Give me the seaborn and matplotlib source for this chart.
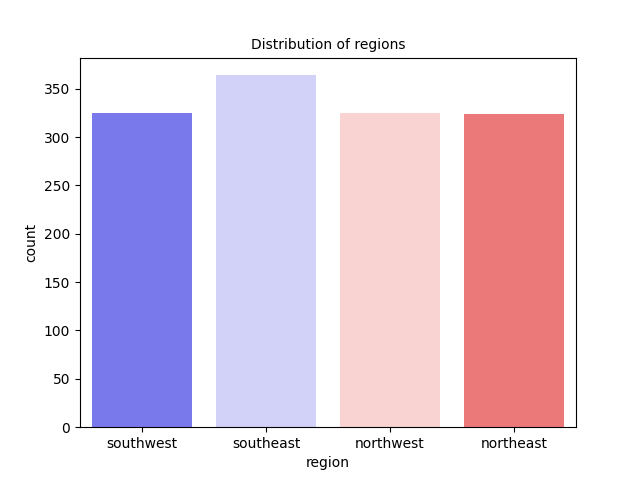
import matplotlib
matplotlib.use("Agg")
import matplotlib.pyplot as plt
import seaborn as sns
import pandas as pd

regions = ["southwest", "southeast", "northwest", "northeast"]
counts = [325, 364, 325, 324]

df = pd.DataFrame({"region": regions, "count": counts})

fig, ax = plt.subplots(figsize=(6.4, 4.8), dpi=100)
sns.barplot(data=df, x="region", y="count", hue="region",
            palette=sns.color_palette("bwr", 4), legend=False, ax=ax)
ax.set_title("Distribution of regions", fontsize=10)
ax.set_xlabel("region")
ax.set_ylabel("count")
fig.savefig("out.png")
